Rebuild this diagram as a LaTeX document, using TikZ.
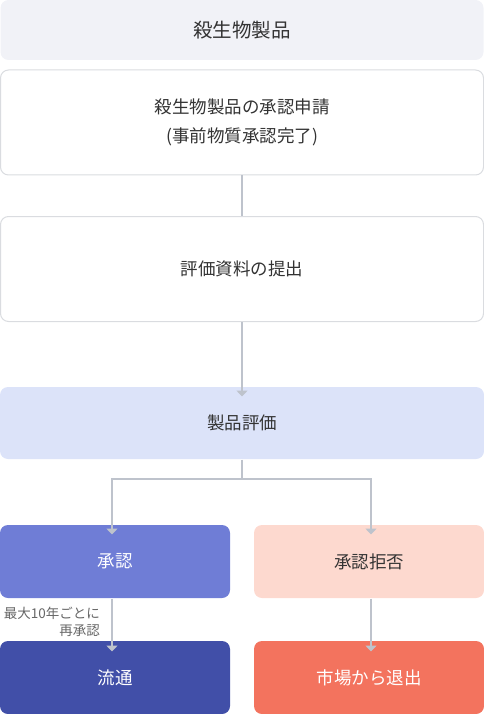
\documentclass[tikz,border=0pt]{standalone}
\usepackage{fontspec}
\setmainfont{Noto Sans CJK JP}
\usetikzlibrary{positioning, arrows.meta}
\definecolor{textdark}{HTML}{333333}
\definecolor{notegray}{HTML}{666666}
\definecolor{boxline}{HTML}{DADCE0}
\definecolor{headfill}{HTML}{F1F2F7}
\definecolor{evalfill}{HTML}{DCE3F9}
\definecolor{okfill}{HTML}{6F7DD6}
\definecolor{ngfill}{HTML}{FDD9CF}
\definecolor{marketfill}{HTML}{414FA8}
\definecolor{exitfill}{HTML}{F3735E}
\definecolor{arrowgray}{HTML}{BEC3CC}
\tikzset{
    %Define style for boxes
    box/.style={
           rectangle,
           rounded corners=8pt,
           draw=boxline, line width=1pt,
           fill=white,
           minimum width=483pt,
           text=textdark,
           align=center,
           font=\fontsize{17.5}{29}\selectfont},
 %
    filledbox/.style={
           box,
           draw=none},
 %
    halfbox/.style={
           filledbox,
           minimum width=230pt,
           minimum height=73pt},
 %
    % Define arrow style
    arrow/.style={
           -{Triangle[width=11pt,length=6pt]},
           draw=arrowgray,
           line width=1.5pt},
    link/.style={
           draw=arrowgray,
           line width=1.5pt}
}
\begin{document}
\begin{tikzpicture}[x=1pt, y=-1pt]
  \useasboundingbox (0,0) rectangle (484,714);
  \node[filledbox, fill=headfill, minimum height=60pt, font=\fontsize{19.5}{24}\selectfont] (product) at (242,30) {殺生物製品};
  \node[box, minimum height=105pt] (apply) at (242,122.5) {殺生物製品の承認申請\\(事前物質承認完了)};
  \node[box, minimum height=105pt] (submit) at (242,269) {評価資料の提出};
  \node[filledbox, fill=evalfill, minimum height=72pt, minimum width=484pt] (judge) at (242,423) {製品評価};
  \node[halfbox, fill=okfill, text=white] (approve) at (115,561.5) {承認};
  \node[halfbox, fill=ngfill] (reject) at (369,561.5) {承認拒否};
  \node[halfbox, fill=marketfill, text=white] (market) at (115,677.5) {流通};
  \node[halfbox, fill=exitfill, text=white] (withdraw) at (369,677.5) {市場から退出};
  \coordinate (split) at (242,479);
  % connectors
  \draw[link] (apply.south) -- (submit.north);
  \draw[arrow] (submit.south) -- ([yshift=-10pt]judge.north);
  \draw[link] (judge.south) -- (split);
  \draw[arrow] (split) -| ([xshift=-3pt,yshift=-10pt]approve.north);
  \draw[arrow] (split) -| ([xshift=2pt,yshift=-10pt]reject.north);
  \draw[arrow] ([xshift=-3pt]approve.south) -- ([xshift=-3pt,yshift=-11pt]market.north)
     node[pos=0.5, anchor=east, xshift=-8pt, yshift=3pt, align=right, text=notegray,
          font=\fontsize{13.5}{17}\selectfont] (renew) {最大10年ごとに\\再承認};
  \draw[arrow] ([xshift=2pt]reject.south) -- ([xshift=2pt,yshift=-11pt]withdraw.north);
\end{tikzpicture}
\end{document}
